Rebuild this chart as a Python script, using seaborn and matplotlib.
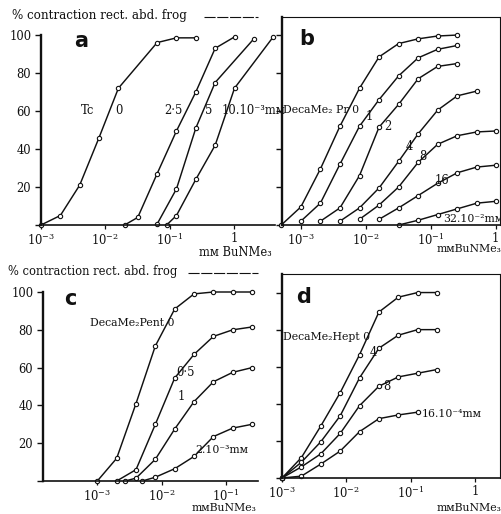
import numpy as np
import pandas as pd
import matplotlib
matplotlib.use("Agg")
import matplotlib.pyplot as plt
import seaborn as sns
from matplotlib.lines import Line2D

# ---------------- data ----------------
# panel a : Tc antagonist
a0_x = [0.001, 0.002, 0.004, 0.008, 0.016, 0.064, 0.128, 0.256]
a0_y = [0, 5, 21, 46, 72, 96, 98.5, 98.5]
a25_x = [0.02, 0.032, 0.064, 0.128, 0.256, 0.512, 1.024]
a25_y = [0, 4, 27, 49.5, 70, 93, 99]
a5_x = [0.064, 0.128, 0.256, 0.512, 2.048]
a5_y = [0.5, 19, 51, 75, 98]
a10_x = [0.09, 0.128, 0.256, 0.512, 1.024, 4.096]
a10_y = [0, 5, 24, 42, 72, 99]

# panel b : DecaMe2 Pr
b0_x = [0.0005, 0.001, 0.002, 0.004, 0.008, 0.016, 0.032, 0.064, 0.128, 0.256]
b0_y = [0, 9.5, 29.5, 52, 72, 88.5, 95.5, 98, 99.5, 100]
b1_x = [0.001, 0.002, 0.004, 0.008, 0.016, 0.032, 0.064, 0.128, 0.256]
b1_y = [2, 11.5, 32, 52, 66, 78.5, 88, 92.5, 94.5]
b2_x = [0.002, 0.004, 0.008, 0.016, 0.032, 0.064, 0.128, 0.256]
b2_y = [2, 9, 26, 51.5, 63.5, 77, 83.5, 85]
b4_x = [0.004, 0.008, 0.016, 0.032, 0.064, 0.128, 0.256, 0.512]
b4_y = [2, 9, 19.5, 33.5, 48, 60.5, 68, 70.5]
b8_x = [0.008, 0.016, 0.032, 0.064, 0.128, 0.256, 0.512, 1.024]
b8_y = [3, 10.5, 20, 33, 42.5, 47, 49, 49.5]
b16_x = [0.016, 0.032, 0.064, 0.128, 0.256, 0.512, 1.024]
b16_y = [3, 9, 15.5, 22, 27.5, 30.5, 31.5]
b32_x = [0.032, 0.064, 0.128, 0.256, 0.512, 1.024]
b32_y = [0, 2.5, 5.5, 8.5, 11.5, 12.5]

# panel c : DecaMe2 Pent
c0_x = [0.001, 0.002, 0.004, 0.008, 0.016, 0.032, 0.064, 0.128, 0.256]
c0_y = [0, 12, 41, 71.5, 91, 99, 100, 100, 100]
c05_x = [0.002, 0.004, 0.008, 0.016, 0.032, 0.064, 0.128, 0.256]
c05_y = [0, 6, 30, 54.5, 67, 76.5, 80, 81.5]
c1_x = [0.0027, 0.004, 0.008, 0.016, 0.032, 0.064, 0.128, 0.256]
c1_y = [0, 1.5, 11.5, 27.5, 42, 52.5, 57.5, 60]
c2_x = [0.005, 0.008, 0.016, 0.032, 0.064, 0.128, 0.256]
c2_y = [0, 2, 6.5, 13, 23.5, 28, 30]

# panel d : DecaMe2 Hept
d_x = [0.001, 0.002, 0.004, 0.008, 0.016, 0.032, 0.064, 0.128, 0.256]
d0_y = [0, 11, 28, 46, 66.5, 89.5, 97.5, 100, 100]
d4_y = [0, 8.5, 19.5, 33.5, 54, 70, 77, 80, 80]
d8_y = [0, 6, 13, 24, 39, 49.5, 54.5, 56.5, 58.5]
d16_x = [0.001, 0.002, 0.004, 0.008, 0.016, 0.032, 0.064, 0.128]
d16_y = [0, 1, 7.5, 14.5, 25, 32, 34, 35.5]

y_ticks = [0, 20, 40, 60, 80, 100]
x_tick_vals = [0.001, 0.01, 0.1, 1]
x_tick_labels = [r"$10^{-3}$", r"$10^{-2}$", r"$10^{-1}$", "1"]

# ---------------- style ----------------
sns.set_theme(style="white")
plt.rcParams["font.family"] = ["DejaVu Serif", "DejaVu Sans"]
plt.rcParams["mathtext.fontset"] = "dejavuserif"

W, H = 502, 514
fig = plt.figure(figsize=(W / 100, H / 100), dpi=100)
fig.patch.set_facecolor("white")


def add_ax(left, top, right, bottom):
    return fig.add_axes([left / W, 1 - bottom / H, (right - left) / W, (bottom - top) / H])


def T(x, y, s, ha="left", size=8.3, **kw):
    fig.text(x / W, 1 - y / H, s, ha=ha, va="center", fontsize=size, color="#111111", **kw)


def curve(ax, x, y):
    n0 = len(ax.lines)
    sns.lineplot(x=x, y=y, ax=ax, color="#111111", lw=1.05, marker="o", markersize=3.1,
                 markerfacecolor="white", markeredgecolor="#111111", markeredgewidth=0.8,
                 errorbar=None, estimator=None, sort=False)
    for ln in ax.lines[n0:]:
        ln.set_clip_on(False)


def style_ax(ax, xlim, ylim, box, ylabels, xt, xtl):
    ax.set_xscale("log")
    ax.set_xlim(*xlim)
    ax.set_ylim(*ylim)
    ax.set_facecolor("white")
    ax.grid(False)
    for s in ["top", "right"]:
        ax.spines[s].set_visible(box)
        ax.spines[s].set_linewidth(0.8)
        ax.spines[s].set_color("#111111")
    ax.spines["left"].set_linewidth(1.7)
    ax.spines["left"].set_color("#111111")
    ax.spines["bottom"].set_linewidth(1.2)
    ax.spines["bottom"].set_color("#111111")
    ax.set_xticks(xt)
    ax.set_xticklabels(xtl)
    ax.xaxis.set_minor_locator(matplotlib.ticker.NullLocator())
    ax.set_yticks(y_ticks)
    if ylabels:
        ax.set_yticklabels(["", "20", "40", "60", "80", "100"])
    else:
        ax.set_yticklabels([])
    ax.tick_params(axis="y", direction="out", length=4, width=1.0, pad=3,
                   labelsize=8.3, colors="#111111", left=True)
    ax.tick_params(axis="x", direction="out", length=3, width=0.9, pad=2,
                   labelsize=8.3, colors="#111111", bottom=True)
    ax.set_xlabel("")
    ax.set_ylabel("")


# ---------------- panel a ----------------
ax_a = add_ax(41, 35, 275, 225)
for x, y in [(a0_x, a0_y), (a25_x, a25_y), (a5_x, a5_y), (a10_x, a10_y)]:
    curve(ax_a, x, y)
style_ax(ax_a, (1e-3, 10 ** 0.64), (0, 100), False, True, x_tick_vals, x_tick_labels)

# ---------------- panel b ----------------
ax_b = add_ax(282, 17, 500, 225)
for x, y in [(b0_x, b0_y), (b1_x, b1_y), (b2_x, b2_y), (b4_x, b4_y),
             (b8_x, b8_y), (b16_x, b16_y), (b32_x, b32_y)]:
    curve(ax_b, x, y)
style_ax(ax_b, (10 ** -3.29, 10 ** 0.066), (0, 109.5), True, False, x_tick_vals, x_tick_labels)

# ---------------- panel c ----------------
ax_c = add_ax(43, 292, 258, 481)
for x, y in [(c0_x, c0_y), (c05_x, c05_y), (c1_x, c1_y), (c2_x, c2_y)]:
    curve(ax_c, x, y)
style_ax(ax_c, (10 ** -3.845, 10 ** -0.50), (0, 100), False, True, x_tick_vals[:3], x_tick_labels[:3])

# ---------------- panel d ----------------
ax_d = add_ax(282, 274, 500, 478)
for x, y in [(d_x, d0_y), (d_x, d4_y), (d_x, d8_y), (d16_x, d16_y)]:
    curve(ax_d, x, y)
style_ax(ax_d, (1e-3, 10 ** 0.385), (0, 110), True, False, x_tick_vals, x_tick_labels)

# ---------------- texts ----------------
T(12, 16, "% contraction rect. abd. frog", size=8.6)
T(8, 272, "% contraction rect. abd. frog", size=8.3)
fig.add_artist(Line2D([204 / W, 258 / W], [1 - 17 / H, 1 - 17 / H], color="#111111",
                      lw=0.8, ls=(0, (10, 1.5))))
fig.add_artist(Line2D([188 / W, 258 / W], [1 - 273 / H, 1 - 273 / H], color="#111111",
                      lw=0.8, ls=(0, (10, 1.5))))

for x, y, s in [(81, 41, "a"), (307, 39, "b"), (70, 299, "c"), (304, 297, "d")]:
    T(x, y, s, ha="center", size=15, family="DejaVu Sans", weight="bold")

# panel a labels
T(88, 111, "Tc", ha="center")
T(119, 111, "0", ha="center")
T(173, 111, "2·5", ha="center")
T(209, 111, "5", ha="center")
T(222, 111, "10.10⁻³mᴍ")
T(272, 252, "mᴍ BuNMe₃", ha="right")

# panel b labels
T(283, 110, "DecaMe₂ Pr 0", size=7.8)
T(369, 117, "1", ha="center")
T(388, 127, "2", ha="center")
T(409, 147, "4", ha="center")
T(423, 157, "8", ha="center")
T(442, 180, "16", ha="center")
T(443, 219, "32.10⁻²mᴍ", size=7.8)
T(501, 249, "mᴍBuNMe₃", ha="right", size=7.8)

# panel c labels
T(90, 323, "DecaMe₂Pent 0", size=7.8)
T(186, 373, "0·5", ha="center")
T(181, 397, "1", ha="center")
T(195, 450, "2.10⁻³mᴍ", size=7.8)
T(192, 508, "mᴍBuNMe₃", size=7.8)

# panel d labels
T(283, 337, "DecaMe₂Hept 0", size=7.8)
T(373, 352, "4", ha="center")
T(387, 387, "8", ha="center")
T(422, 414, "16.10⁻⁴mᴍ", size=7.8)
T(501, 508, "mᴍBuNMe₃", ha="right", size=7.8)

fig.savefig("out.png", dpi=100, facecolor="white")
